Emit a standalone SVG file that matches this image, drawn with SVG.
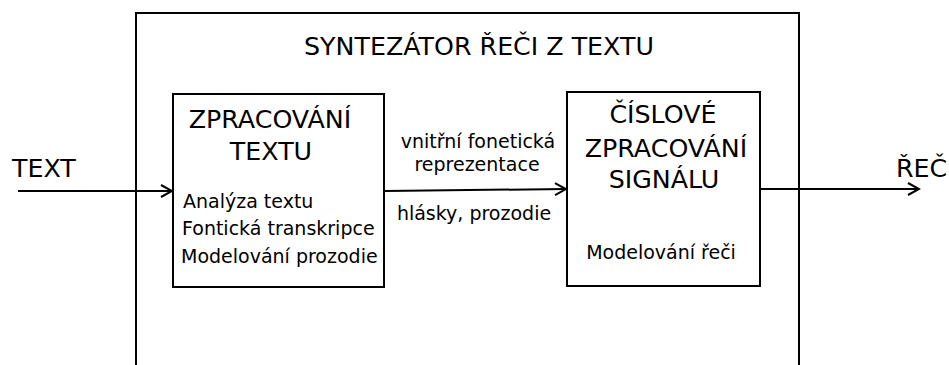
<svg xmlns="http://www.w3.org/2000/svg" width="949" height="365" viewBox="0 0 949 365">
<style>
text{font-family:"DejaVu Sans",sans-serif;fill:#000}
.big{font-size:25.3px}
.sm{font-size:19px}
.box{fill:#fff;stroke:#000;stroke-width:2}
.ln{fill:none;stroke:#000;stroke-width:2}
</style>
<defs>
<marker id="arr" markerWidth="14" markerHeight="14" refX="12" refY="7" orient="auto" markerUnits="userSpaceOnUse">
<path d="M1,1 L12,7 L1,13" fill="none" stroke="#000" stroke-width="2"/>
</marker>
</defs>
<rect width="949" height="365" fill="#fff"/>
<g id="outer">
<path class="ln" d="M136,367 V13 H799 V367"/>
<text class="big" x="479" y="55" text-anchor="middle">SYNTEZÁTOR ŘEČI Z TEXTU</text>
</g>
<g id="connectors">
<line class="ln" x1="18" y1="191" x2="172" y2="191" marker-end="url(#arr)"/>
<line class="ln" x1="385" y1="191" x2="566" y2="189" marker-end="url(#arr)"/>
<line class="ln" x1="760" y1="189" x2="919" y2="189" marker-end="url(#arr)"/>
</g>
<g id="input">
<text class="big" x="12" y="177">TEXT</text>
</g>
<g id="zpracovani-textu">
<rect class="box" x="173" y="94" width="211" height="193"/>
<text class="big" x="270" y="128" text-anchor="middle">ZPRACOVÁNÍ</text>
<text class="big" x="271" y="160" text-anchor="middle">TEXTU</text>
<text class="sm" x="183" y="208">Analýza textu</text>
<text class="sm" x="182" y="235">Fontická transkripce</text>
<text class="sm" x="181" y="263">Modelování prozodie</text>
</g>
<g id="labels">
<text class="sm" x="478" y="148" text-anchor="middle">vnitřní fonetická</text>
<text class="sm" x="477" y="171" text-anchor="middle">reprezentace</text>
<text class="sm" x="474" y="220" text-anchor="middle">hlásky, prozodie</text>
</g>
<g id="ciselove-zpracovani">
<rect class="box" x="567" y="92" width="193" height="194"/>
<text class="big" x="663" y="123" text-anchor="middle">ČÍSLOVÉ</text>
<text class="big" x="666" y="157" text-anchor="middle">ZPRACOVÁNÍ</text>
<text class="big" x="664" y="188" text-anchor="middle">SIGNÁLU</text>
<text class="sm" x="661" y="259" text-anchor="middle">Modelování řeči</text>
</g>
<g id="output">
<text class="big" x="896" y="177">ŘEČ</text>
</g>
</svg>
